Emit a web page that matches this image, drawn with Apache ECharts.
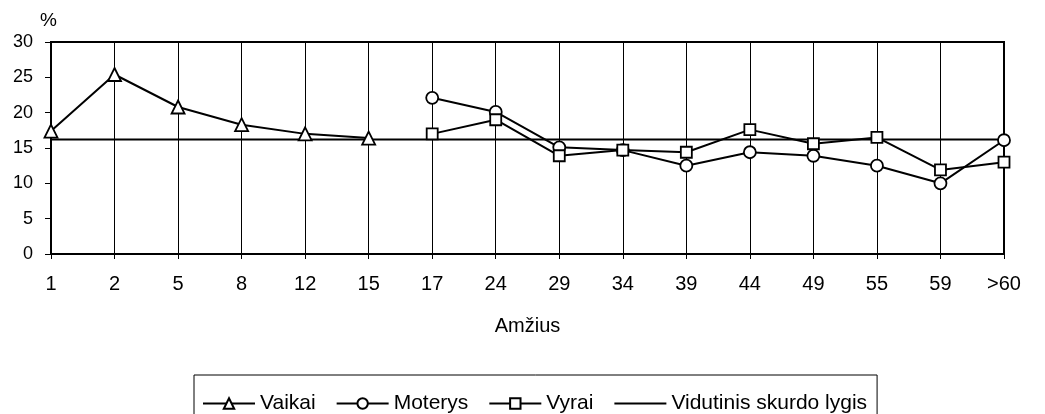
<!DOCTYPE html>
<html>
<head>
<meta charset="utf-8">
<script src="https://cdn.jsdelivr.net/npm/echarts@6/dist/echarts.min.js"></script>
<style>
  html, body { margin: 0; padding: 0; background: #fff; }
  #main { width: 1045px; height: 414px; }
</style>
</head>
<body>
<div id="main"></div>
<script>
const ages = ['1', '2', '5', '8', '12', '15', '17', '24', '29', '34', '39', '44', '49', '55', '59', '>60']
const vaikai = [17.4, 25.4, 20.8, 18.3, 17.0, 16.4, null, null, null, null, null, null, null, null, null, null]
const moterys = [null, null, null, null, null, null, 22.1, 20.1, 15.1, 14.7, 12.5, 14.4, 13.9, 12.5, 10.0, 16.1]
const vyrai = [null, null, null, null, null, null, 17.0, 19.0, 13.9, 14.7, 14.4, 17.6, 15.6, 16.5, 11.9, 13.0]
const skurdoLygis = [16.2, 16.2, 16.2, 16.2, 16.2, 16.2, 16.2, 16.2, 16.2, 16.2, 16.2, 16.2, 16.2, 16.2, 16.2, 16.2]
const yTicks = [0, 5, 10, 15, 20, 25, 30]

const font = 'Liberation Sans, Arial, sans-serif'
const myChart = echarts.init(document.getElementById('main'), null, { renderer: 'canvas' })

function lineSeries (name, data, symbol, size) {
  return {
    name: name,
    type: 'line',
    data: data,
    symbol: symbol,
    symbolSize: size,
    showSymbol: symbol !== 'none',
    connectNulls: false,
    lineStyle: { color: '#000', width: 2 },
    itemStyle: { color: '#fff', borderColor: '#000', borderWidth: 1.8 },
    emphasis: { disabled: true },
    z: 3
  }
}

const option = {
  animation: false,
  textStyle: { fontFamily: font },
  grid: {
    left: 51,
    right: 41,
    top: 42,
    bottom: 160,
    show: true,
    borderColor: '#000',
    borderWidth: 2,
    backgroundColor: 'transparent'
  },
  legend: {
    left: 194,
    top: 375,
    padding: [18, 10, 16, 8],
    itemGap: 20,
    itemWidth: 52,
    itemHeight: 13,
    borderColor: '#000',
    borderWidth: 1,
    textStyle: { fontFamily: font, fontSize: 21, color: '#000', padding: [0, 0, 0, 0] },
    data: [
      'Vaikai',
      'Moterys',
      'Vyrai',
      { name: 'Vidutinis skurdo lygis', itemStyle: { opacity: 0 } }
    ]
  },
  xAxis: {
    type: 'category',
    data: ages,
    boundaryGap: false,
    name: 'Amžius',
    nameLocation: 'middle',
    nameGap: 62,
    nameTextStyle: { fontFamily: font, fontSize: 20, color: '#000' },
    axisLine: { show: true, lineStyle: { color: '#000', width: 2 } },
    axisTick: { show: true, length: 5, lineStyle: { color: '#000' } },
    axisLabel: { color: '#000', fontSize: 20, fontFamily: font, margin: 20 },
    splitLine: { show: true, lineStyle: { color: '#000', width: 1 } }
  },
  yAxis: {
    type: 'value',
    min: yTicks[0],
    max: yTicks[yTicks.length - 1],
    interval: 5,
    name: '%',
    nameLocation: 'end',
    nameGap: 12,
    nameTextStyle: { fontFamily: font, fontSize: 19, color: '#000', align: 'right', padding: [0, -6, 0, 0] },
    axisLine: { show: true, lineStyle: { color: '#000', width: 2 } },
    axisTick: { show: true, length: 6, lineStyle: { color: '#000' } },
    axisLabel: { color: '#000', fontSize: 18, fontFamily: font, margin: 18 },
    splitLine: { show: false }
  },
  series: [
    lineSeries('Vaikai', vaikai, 'triangle', 13),
    lineSeries('Moterys', moterys, 'circle', 12),
    lineSeries('Vyrai', vyrai, 'rect', 11),
    lineSeries('Vidutinis skurdo lygis', skurdoLygis, 'none', 0)
  ]
}

myChart.setOption(option)
</script>
</body>
</html>
